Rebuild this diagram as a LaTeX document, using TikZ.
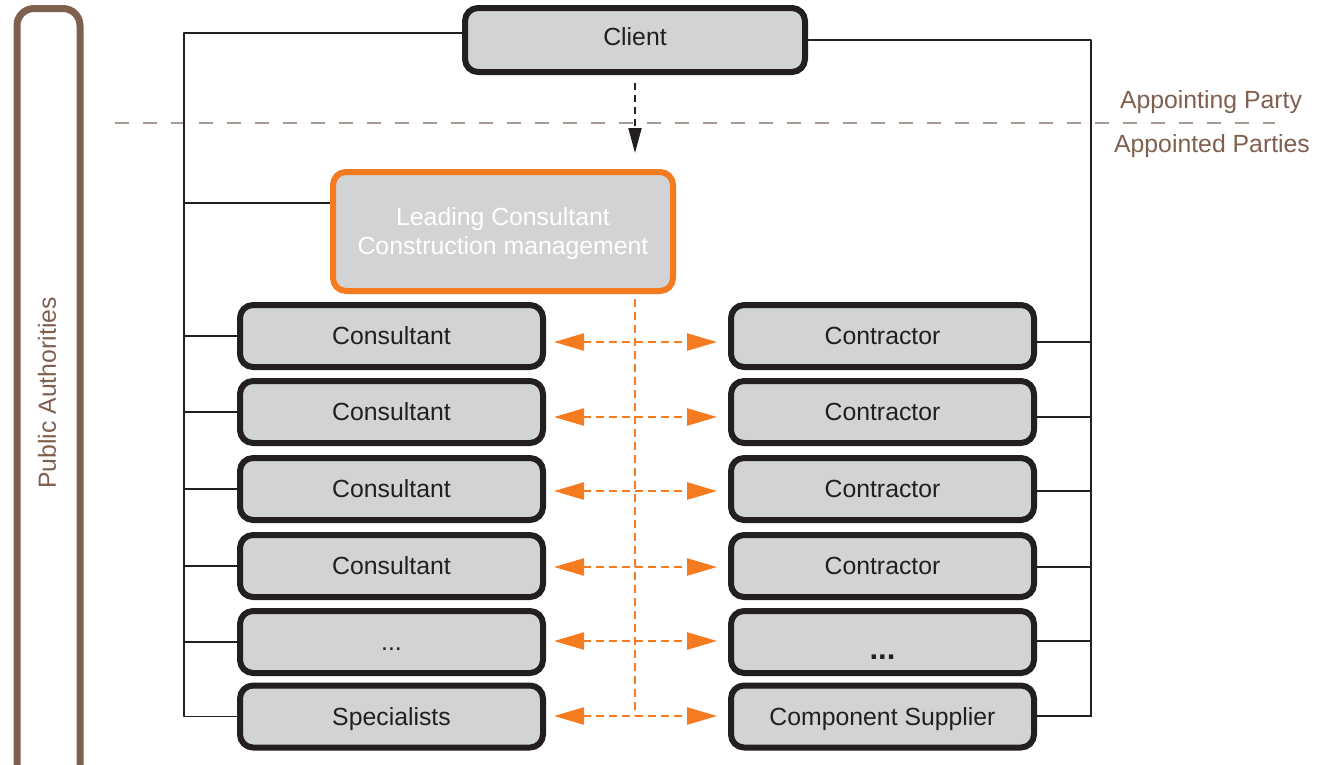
\documentclass[tikz,border=0pt]{standalone}
\usepackage{fontspec}
\setmainfont{Liberation Sans}
\usetikzlibrary{arrows.meta}
\definecolor{ink}{HTML}{231F20}
\definecolor{boxgray}{HTML}{D1D3D4}
\definecolor{orng}{HTML}{F47B20}
\definecolor{authbrown}{HTML}{7F5F4E}
\definecolor{divgray}{HTML}{A89A92}
\newcommand\fewdots{...}
\newcommand\moredots{\raisebox{-9pt}[20pt][3pt]{\fontsize{31}{31}\selectfont\bfseries...}}
\begin{document}
\begin{tikzpicture}[x=1pt, y=-1pt, line join=round,
  party/.style={draw=ink, line width=6pt, fill=boxgray, rounded corners=13pt, minimum width=303pt, minimum height=62pt, inner sep=0pt, text height=20pt, text depth=3pt, text=ink, font=\fontsize{24.8}{29}\selectfont},
  lead/.style={party, draw=orng, minimum width=340pt, minimum height=119pt, text height=, text depth=0pt, text=white, align=center},
  link/.style={ink, line width=1.6pt},
  exchange/.style={orng, line width=2.4pt, dash pattern=on 8pt off 5pt, {Triangle[length=30pt,width=17pt]}-{Triangle[length=30pt,width=17pt]}},
  tag/.style={text=authbrown, font=\fontsize{24.8}{29}\selectfont}]
  \useasboundingbox (0,0) rectangle (1323,764);
  \draw[authbrown, line width=7pt, rounded corners=17pt] (17,8.5) rectangle (80,790);
  \node[tag, rotate=90] (auth) at (47,393) {Public Authorities};
  \draw[divgray, line width=1.6pt, dash pattern=on 14pt off 14pt] (115,123) -- (1275,123);
  \node[tag] (appointing) at (1211,102) {Appointing Party};
  \node[tag] (appointed) at (1212,146) {Appointed Parties};
  \node[party, minimum width=340pt, minimum height=64pt, text depth=10pt] (client) at (635,40) {Client};
  \node[lead] (lead) at (503,231.5) {Leading Consultant\\Construction management};
  \coordinate (tl) at (184,33);
  \coordinate (tr) at (1091,40);
  \foreach \i/\y/\a/\l/\r in {1/336/342/Consultant/Contractor, 2/412/417/Consultant/Contractor, 3/489/491/Consultant/Contractor, 4/566/567/Consultant/Contractor, 5/642/641/\fewdots/\moredots, 6/716.5/716/Specialists/Component Supplier}{
    \node[party] (cons\i) at (391.5,\y) {\l};
    \node[party] (ctr\i) at (882.5,\y) {\r};
    \draw[link] (tl |- cons\i.west) -- (cons\i.west);
    \draw[link] (ctr\i.east |- 0,\a) -- (tr |- 0,\a);
    \draw[exchange, shorten <=8pt, shorten >=11pt] (cons\i.east |- 0,\a) -- (ctr\i.west |- 0,\a);
  }
  \draw[link] (client.west |- tl) -- (tl) |- (cons6.west);
  \draw[link] (tl |- 0,203) -- (lead.west |- 0,203);
  \draw[link] (client.east) -| (ctr6.east -| tr);
  \draw[orng, line width=2.4pt, dash pattern=on 8pt off 5pt, shorten <=5pt] (client.south |- lead.south) -- (client.south |- 0,716);
  \draw[ink, line width=2pt, dash pattern=on 7pt off 5pt, shorten <=8pt, shorten >=16pt, -{Triangle[length=25pt,width=13pt]}] (client.south) -- (client.south |- lead.north);
\end{tikzpicture}
\end{document}
